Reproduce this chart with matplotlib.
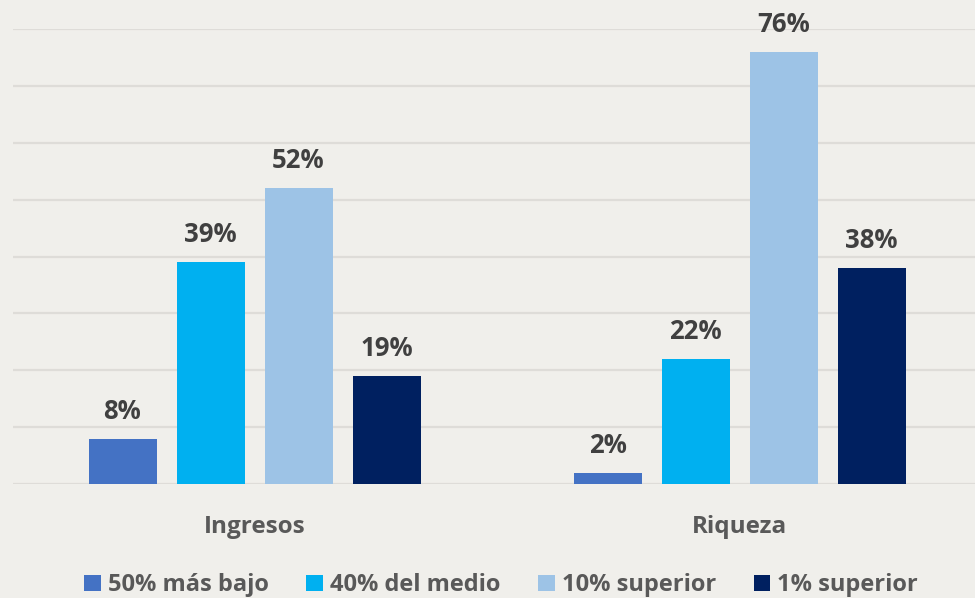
import numpy as np
import matplotlib.pyplot as plt

# data
categories = ['Ingresos', 'Riqueza']
series_names = ['50% más bajo', '40% del medio', '10% superior', '1% superior']
bajo_50 = [8, 2]
medio_40 = [39, 22]
superior_10 = [52, 76]
superior_1 = [19, 38]
colors = ['#4472C4', '#00B0F0', '#9DC3E6', '#002060']

plt.rcParams['font.family'] = ['Open Sans', 'DejaVu Sans']
bg = '#f0efeb'
text_col = '#595959'

fig = plt.figure(figsize=(9.75, 5.98), dpi=100, facecolor=bg)
ax = fig.add_axes([13 / 975, 1 - 484 / 598, 1 - 13 / 975, (484 - 29) / 598])
ax.set_facecolor(bg)

x = np.arange(len(categories))
step = 88 / 485
width = 68 / 485
all_series = [bajo_50, medio_40, superior_10, superior_1]

for i, (vals, name, c) in enumerate(zip(all_series, series_names, colors)):
    pos = x + (i - 1.5) * step
    bars = ax.bar(pos, vals, width, color=c, label=name, zorder=3)
    for b, v in zip(bars, vals):
        ax.annotate(f'{v}%', (b.get_x() + b.get_width() / 2, v),
                    xytext=(0, 10), textcoords='offset points',
                    ha='center', va='bottom', fontsize=18.5,
                    fontweight='bold', color='#404040')

ax.set_ylim(0, 80)
ax.set_xlim(-(254.5 - 13) / 485, 1 + (975 - 739.5) / 485)
ax.set_yticks(np.arange(0, 81, 10))
ax.yaxis.grid(True, color='#dedcd8', linewidth=1.6, zorder=0)
ax.tick_params(axis='y', left=False, labelleft=False)
ax.tick_params(axis='x', length=0, pad=22)
ax.set_xticks(x)
ax.set_xticklabels(categories, fontsize=17.5, color=text_col, fontweight='bold')
for s in ax.spines.values():
    s.set_visible(False)

leg = fig.legend(loc='lower center', bbox_to_anchor=(0.514, -0.034), ncol=4,
                 frameon=False, fontsize=17, handlelength=0.7, handleheight=0.7,
                 handletextpad=0.3, columnspacing=1.6)
for t in leg.get_texts():
    t.set_color(text_col)
    t.set_fontweight('bold')

fig.savefig('out.png', dpi=100, facecolor=bg)
